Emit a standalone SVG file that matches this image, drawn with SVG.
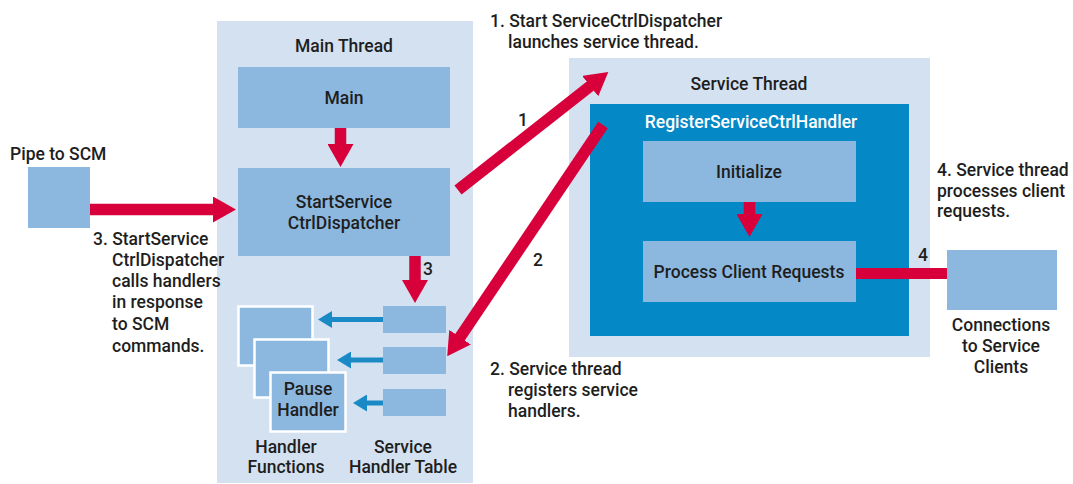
<svg xmlns="http://www.w3.org/2000/svg" width="1073" height="484" viewBox="0 0 1073 484">
  <style>
    text { font-family: Roboto, "Liberation Sans", sans-serif; font-weight: 500; font-size: 17.5px; fill: #1e1e1e; }
    .c { text-anchor: middle; }
    .w { fill: #ffffff; }
    .panel { fill: #d4e1f1; }
    .box { fill: #8cb8df; }
    .dark { fill: #0588c6; }
    .card { fill: #8cb8df; stroke: #ffffff; stroke-width: 2.5; }
    .red { fill: none; stroke: #d8003a; stroke-width: 11.5; marker-end: url(#redHead); }
    .blue { fill: none; stroke: #1a8ac6; stroke-width: 5; marker-end: url(#blueHead); }
  </style>
  <defs>
    <marker id="redHead" viewBox="0 0 23 26" refX="1" refY="13" markerWidth="23" markerHeight="26" markerUnits="userSpaceOnUse" orient="auto">
      <path d="M0,0 L23,13 L0,26 z" fill="#d8003a"/>
    </marker>
    <marker id="blueHead" viewBox="0 0 14 17" refX="1" refY="8.5" markerWidth="14" markerHeight="17" markerUnits="userSpaceOnUse" orient="auto">
      <path d="M0,0 L14,8.5 L0,17 z" fill="#1a8ac6"/>
    </marker>
  </defs>

  <rect width="1073" height="484" fill="#ffffff"/>

  <!-- Main thread panel -->
  <g id="main-thread">
    <rect class="panel" x="217" y="21" width="256" height="462"/>
    <text class="c" x="344" y="52">Main Thread</text>
  </g>

  <!-- Service thread panel -->
  <g id="service-thread">
    <rect class="panel" x="569" y="58" width="361" height="299"/>
    <text class="c" x="749" y="90">Service Thread</text>
  </g>

  <g id="register-handler">
    <rect class="dark" x="590" y="104" width="319" height="232"/>
    <text class="c w" x="751" y="128">RegisterServiceCtrlHandler</text>
  </g>

  <g id="main">
    <rect class="box" x="238" y="67" width="212" height="61"/>
    <text class="c" x="344" y="104">Main</text>
  </g>

  <g id="start-dispatcher">
    <rect class="box" x="238" y="168" width="212" height="88"/>
    <text class="c" x="344" y="208">StartService</text>
    <text class="c" x="344" y="229">CtrlDispatcher</text>
  </g>

  <g id="initialize">
    <rect class="box" x="643" y="141" width="213" height="61"/>
    <text class="c" x="749" y="178">Initialize</text>
  </g>

  <g id="process-requests">
    <rect class="box" x="643" y="241" width="213" height="61"/>
    <text class="c" x="749" y="278">Process Client Requests</text>
  </g>

  <g id="pipe-to-scm">
    <rect class="box" x="28" y="167" width="62" height="61"/>
    <text x="10" y="160">Pipe to SCM</text>
  </g>

  <g id="service-clients">
    <rect class="box" x="947" y="250" width="110" height="60"/>
    <text class="c" x="1001" y="331">Connections</text>
    <text class="c" x="1001" y="352">to Service</text>
    <text class="c" x="1001" y="373">Clients</text>
  </g>

  <g id="handler-table">
    <rect class="box" x="383" y="306" width="63" height="27"/>
    <rect class="box" x="383" y="347" width="63" height="27"/>
    <rect class="box" x="383" y="389" width="63" height="27"/>
    <text class="c" x="403" y="453">Service</text>
    <text class="c" x="403" y="473">Handler Table</text>
  </g>

  <g id="handler-functions">
    <rect class="card" x="238.5" y="306.5" width="74" height="59"/>
    <rect class="card" x="254.5" y="339.5" width="74" height="58"/>
    <rect class="card" x="270.5" y="372.5" width="75" height="59"/>
    <text class="c" x="308" y="395">Pause</text>
    <text class="c" x="308" y="416">Handler</text>
    <text class="c" x="286" y="453">Handler</text>
    <text class="c" x="286" y="473">Functions</text>
  </g>

  <!-- Connectors -->
  <g id="connectors">
    <path class="red" d="M340.5,128 V145"/>
    <path class="red" d="M90,209.5 H214"/>
    <path class="red" d="M415,256 V281"/>
    <path class="red" d="M749.5,202 V215"/>
    <path class="red" d="M458,190 L591,85.5"/>
    <path class="red" d="M603,125 L459.5,338"/>
    <rect x="856" y="268" width="91" height="11" fill="#d8003a"/>
    <path class="blue" d="M383,319.5 H331"/>
    <path class="blue" d="M383,360 H350"/>
    <path class="blue" d="M383,403 H366"/>
  </g>

  <!-- Step labels -->
  <g id="labels">
    <text x="518" y="126">1</text>
    <text x="533" y="266">2</text>
    <text x="423" y="275">3</text>
    <text x="918" y="261">4</text>
    <text x="490" y="27">1. Start ServiceCtrlDispatcher</text>
    <text x="508" y="48">launches service thread.</text>
    <text x="490" y="375">2. Service thread</text>
    <text x="508" y="396">registers service</text>
    <text x="508" y="417">handlers.</text>
    <text x="93" y="245">3. StartService</text>
    <text x="112" y="266">CtrlDispatcher</text>
    <text x="112" y="287">calls handlers</text>
    <text x="112" y="308">in response</text>
    <text x="112" y="330">to SCM</text>
    <text x="112" y="352">commands.</text>
    <text x="937" y="176">4. Service thread</text>
    <text x="937" y="197">processes client</text>
    <text x="937" y="217">requests.</text>
  </g>
</svg>
